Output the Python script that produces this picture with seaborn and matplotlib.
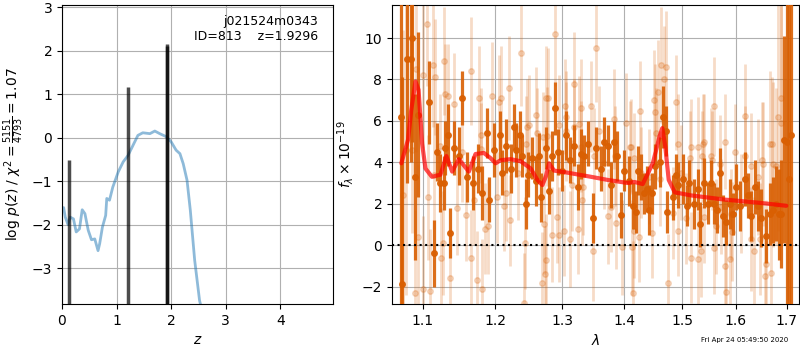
import matplotlib
matplotlib.use('Agg')
import matplotlib.pyplot as plt
from matplotlib.ticker import FormatStrFormatter, NullLocator
import pandas as pd
import seaborn as sns

# redshift fit: log p(z) curve
pz_z = [0.0, 0.03, 0.06, 0.11, 0.15, 0.21, 0.26, 0.32, 0.37, 0.42, 0.48, 0.54, 0.60, 0.66,
        0.69, 0.74, 0.80, 0.82, 0.87, 0.93, 1.03, 1.12, 1.21, 1.30, 1.39, 1.48, 1.61, 1.70,
        1.79, 1.91, 2.00, 2.09, 2.16, 2.22, 2.29, 2.35, 2.43, 2.52, 2.55]
pz_logp = [-1.67, -1.61, -1.83, -2.0, -1.83, -1.87, -2.17, -2.1, -1.66, -1.75, -2.13, -2.35,
           -2.33, -2.6, -2.44, -2.06, -1.79, -1.40, -1.44, -1.14, -0.79, -0.56, -0.41, -0.18,
           0.05, 0.11, 0.09, 0.15, 0.09, 0.02, -0.10, -0.29, -0.37, -0.60, -0.98, -1.67,
           -2.82, -3.75, -3.9]
spike_z = [0.128, 1.215, 1.915, 1.93]
spike_top = [-0.52, 1.17, 2.16, 2.1]

# spectrum: model
model_wave = [1.0723, 1.0810, 1.0850, 1.0906, 1.0946, 1.0993, 1.1037, 1.1122, 1.1236, 1.1317,
              1.1395, 1.1486, 1.1625, 1.1718, 1.1836, 1.1931, 1.2003, 1.2075, 1.2221, 1.2368,
              1.2518, 1.2618, 1.2694, 1.2745, 1.2795, 1.2872, 1.3080, 1.3452, 1.3722, 1.4057,
              1.4170, 1.4312, 1.4486, 1.4603, 1.4651, 1.4704, 1.4764, 1.4871, 1.5166, 1.5782,
              1.6433, 1.6994]
model_flux = [3.95, 5.1, 6.5, 7.9, 7.5, 4.9, 3.7, 3.3, 3.4, 4.3,
              3.55, 4.15, 3.55, 4.4, 4.45, 4.2, 3.95, 4.1, 4.15, 4.05,
              3.7, 3.15, 2.9, 3.3, 3.95, 3.6, 3.5, 3.3, 3.15, 3.0,
              3.05, 2.95, 3.95, 5.25, 5.65, 4.75, 3.15, 2.55, 2.4, 2.2,
              2.05, 1.9]

# spectrum: combined (dark) points
dark_wave = [1.0715, 1.0735, 1.0796, 1.0848, 1.0865, 1.0904, 1.0934, 1.1081, 1.1147, 1.1192,
             1.1227, 1.1281, 1.1303, 1.1335, 1.1372, 1.1417, 1.1486, 1.1524, 1.1593, 1.1686,
             1.1751, 1.1813, 1.1883, 1.1906, 1.1978, 1.2061, 1.2100, 1.2159, 1.2221, 1.2270,
             1.2305, 1.2353, 1.2393, 1.2443, 1.2483, 1.2544, 1.2593, 1.2643, 1.2680, 1.2745,
             1.2795, 1.2836, 1.2887, 1.2940, 1.3002, 1.3065, 1.3117, 1.3185, 1.3239, 1.3291,
             1.3344, 1.3398, 1.3489, 1.3533, 1.3614, 1.3668, 1.3724, 1.3778, 1.3833, 1.3878,
             1.3944, 1.4000, 1.4084, 1.4141, 1.4198, 1.4226, 1.4283, 1.4329, 1.4386, 1.4426,
             1.4467, 1.4525, 1.4618, 1.4660, 1.4718, 1.4736, 1.4836, 1.4895, 1.4936, 1.5014,
             1.5092, 1.5133, 1.5224, 1.5287, 1.5335, 1.5409, 1.5483, 1.5534, 1.5585, 1.5647,
             1.5691, 1.5755, 1.5816, 1.5879, 1.5943, 1.6007, 1.6071, 1.6168, 1.6233, 1.6297,
             1.6362, 1.6428, 1.6494, 1.6593, 1.6659, 1.6727, 1.6793, 1.6840, 1.6894, 1.6949,
             1.7016, 1.7043, 1.7098]
dark_flux = [6.2, -1.9, 9.0, 9.0, 10.0, 3.3, 6.3, 6.9, -0.4, 4.5,
             3.0, 3.0, 4.7, 5.3, 0.6, 4.7, 4.3, 7.1, 3.3, 3.0,
             3.7, 2.5, 5.4, 2.2, 4.6, 5.3, 3.5, 4.8, 3.7, 5.7,
             4.6, 5.3, 4.3, 2.0, 3.4, 4.2, 3.1, 4.3, 2.3, 4.7,
             2.6, 4.3, 6.6, 4.5, 3.6, 5.3, 4.1, 4.8, 2.8, 4.4,
             4.3, 4.9, 1.3, 4.7, 3.7, 5.0, 4.8, 2.9, 5.0, 4.3,
             1.45, 3.6, 3.1, 1.9, 1.6, 3.6, 3.3, 2.5, 2.7, 1.7,
             2.5, 3.8, 4.0, 6.2, 5.5, 1.6, 2.3, 3.4, 2.9, 3.2,
             1.9, 3.0, 2.0, 2.7, 1.0, 3.0, 2.0, 3.0, 2.0, 1.7,
             3.5, 1.4, 1.1, 2.0, 1.5, 2.8, 1.9, 3.2, 2.4, 1.4,
             2.8, 1.9, 1.3, 0.45, 1.5, 1.7, 2.0, 1.5, 1.5, 5.1,
             5.0, 3.2, 5.3]
dark_err = [10, 10, 6, 5, 5, 4, 4, 2.0, 1.6, 1.4,
            1.4, 1.3, 1.3, 1.5, 1.2, 1.3, 1.4, 1.3, 1.2, 1.3,
            1.2, 1.3, 1.2, 1.1, 1.3, 1.2, 1.1, 1.3, 1.2, 1.1,
            1.3, 1.2, 1.0, 1.2, 1.1, 1.0, 1.2, 1.1, 1.2, 1.0,
            1.1, 1.2, 1.3, 1.1, 1.0, 1.2, 1.1, 1.0, 1.1, 1.2,
            1.0, 1.1, 1.2, 1.0, 1.1, 1.2, 1.0, 1.1, 1.0, 1.2,
            1.1, 1.0, 1.2, 1.1, 1.0, 1.2, 1.1, 1.0, 1.1, 1.2,
            1.0, 1.1, 1.2, 1.5, 1.2, 1.0, 1.1, 1.0, 1.1, 1.2,
            1.0, 1.1, 1.2, 1.0, 1.1, 1.2, 1.0, 1.1, 1.0, 1.1,
            1.2, 1.0, 1.1, 1.2, 1.0, 1.1, 1.2, 1.3, 1.1, 1.2,
            1.3, 1.2, 1.4, 1.3, 1.5, 1.6, 1.8, 2.2, 2.6, 5.0,
            9, 10, 12]

# spectrum: individual beams (light points)
light_wave = [1.0745, 1.0780, 1.0867, 1.0902, 1.0911, 1.0941, 1.0999, 1.1006, 1.1059, 1.1072,
              1.1103, 1.1134, 1.1147, 1.1170, 1.1236, 1.1240, 1.1267, 1.1281, 1.1303, 1.1340,
              1.1362, 1.1417, 1.1463, 1.1532, 1.1579, 1.1648, 1.1655, 1.1693, 1.1741, 1.1765,
              1.1789, 1.1813, 1.1850, 1.1892, 1.1956, 1.2027, 1.2051, 1.2075, 1.2124, 1.2149,
              1.2196, 1.2206, 1.2334, 1.2368, 1.2417, 1.2432, 1.2443, 1.2493, 1.2604, 1.2694,
              1.2703, 1.2719, 1.2734, 1.2745, 1.2755, 1.2786, 1.2836, 1.2887, 1.2924, 1.2945,
              1.2950, 1.3027, 1.3043, 1.3050, 1.3058, 1.3117, 1.3149, 1.3185, 1.3239, 1.3264,
              1.3291, 1.3307, 1.3328, 1.3452, 1.3489, 1.3533, 1.3587, 1.3724, 1.3778, 1.3823,
              1.3861, 1.3956, 1.4028, 1.4100, 1.4124, 1.4151, 1.4158, 1.4168, 1.4254, 1.4271,
              1.4426, 1.4467, 1.4512, 1.4520, 1.4542, 1.4582, 1.4618, 1.4630, 1.4677, 1.4724,
              1.4748, 1.4836, 1.4895, 1.4925, 1.4936, 1.4985, 1.5075, 1.5153, 1.5166, 1.5287,
              1.5295, 1.5349, 1.5380, 1.5398, 1.5409, 1.5534, 1.5585, 1.5592, 1.5627, 1.5691,
              1.5786, 1.5800, 1.5808, 1.5879, 1.5924, 1.5975, 1.6168, 1.6175, 1.6284, 1.6350,
              1.6428, 1.6461, 1.6528, 1.6560, 1.6593, 1.6659, 1.6693, 1.6727, 1.6827, 1.6880,
              1.6894,
              1.1795, 1.2468, 1.2618, 1.2770, 1.3190, 1.3296, 1.3506, 1.3672, 1.3838, 1.4113,
              1.4290, 1.5170, 1.5355, 1.5540, 1.5721, 1.5911, 1.6103, 1.6300, 1.6498, 1.6698,
              1.6793]
light_flux = [2.4, 4.6, 4.6, -2.3, 8.5, 0.4, -2.1, 8.2, 10.7, 2.3,
              -2.2, 8.7, 3.4, 8.1, 4.8, -0.6, 0.1, 8.9, 7.3, 7.2,
              -1.6, 6.8, 1.8, 4.5, 1.45, 8.4, -0.6, 2.2, -1.7, 7.1,
              5.3, -2.1, 0.8, 0.9, 7.2, 2.3, 6.9, 7.1, 1.9, 2.5,
              7.6, 1.2, 3.5, 9.3, -2.8, 0.1, 4.9, 5.8, 6.3, -1.85,
              5.2, 1.0, -1.4, 7.1, -0.7, 7.1, 0.5, 10.2, 1.35, 0.5,
              5.8, 0.7, 6.7, 6.2, 5.5, 0.3, 2.9, 7.8, 0.8, 5.85,
              6.6, 2.2, 2.8, 6.7, -0.3, 9.5, 5.5, 1.4, 1.85, 6.1,
              1.05, -0.1, 5.9, 4.75, -0.1, -2.3, 4.2, 0.7, 0.4, 6.5,
              3.3, 0.6, 7.0, 6.45, 5.4, 7.4, 3.2, 8.7, 8.0, 8.6,
              -1.85, 1.55, 6.9, 0.7, 4.9, 3.5, 1.3, 4.2, -0.6, 4.75,
              -0.65, -0.3, 4.9, 5.0, 1.35, 4.3, 6.7, -0.15, 0.9, 3.9,
              5.0, -1.0, -2.25, -0.65, 0.65, 4.5, 6.25, 4.3, 0.3, -0.3,
              3.3, 0.3, 3.9, -1.5, -0.9, 4.9, -1.35, 3.9, 6.2, 5.9,
              7.1,
              4.65, 5.7, 5.4, 5.25, 5.7, 4.75, 4.3, 3.95, 4.3, 4.75,
              3.5, 4.75, 4.3, 4.1, 1.85, 1.5, 2.0, 3.8, 4.1, 4.9,
              3.8]
light_err = [8, 7, 4, 4, 4, 3.5, 3.5, 3.5, 3, 3,
             3, 3, 2.6, 2.8, 2.5, 2.4, 2.5, 2.6, 2.4, 2.5,
             2.4, 2.5, 2.3, 2.4, 2.2, 2.6, 2.3, 2.2, 2.4, 2.5,
             2.3, 2.4, 2.2, 2.3, 2.6, 2.2, 2.3, 2.5, 2.2, 2.3,
             2.5, 2.2, 2.3, 2.6, 2.4, 2.2, 2.3, 2.4, 2.3, 2.5,
             2.2, 2.4, 2.3, 2.5, 2.2, 2.4, 2.3, 2.5, 2.2, 2.3,
             2.4, 2.2, 2.3, 2.2, 2.4, 2.3, 2.2, 2.5, 2.2, 2.3,
             2.4, 2.2, 2.3, 2.2, 2.4, 2.6, 2.2, 2.3, 2.2, 2.4,
             2.2, 2.3, 2.4, 2.2, 2.3, 2.5, 2.2, 2.3, 2.2, 2.4,
             2.3, 2.2, 2.4, 2.3, 2.2, 2.5, 2.3, 2.8, 2.6, 2.7,
             2.4, 2.2, 2.3, 2.2, 2.4, 2.3, 2.2, 2.3, 2.2, 2.4,
             2.3, 2.2, 2.4, 2.3, 2.2, 2.3, 2.4, 2.2, 2.3, 2.4,
             2.3, 2.4, 2.5, 2.3, 2.4, 2.3, 2.5, 2.4, 2.5, 2.6,
             2.8, 2.7, 3.0, 2.9, 3.1, 3.5, 3.3, 4.0, 5.5, 6.0,
             7.0,
             2.2, 2.3, 2.2, 2.4, 2.3, 2.2, 2.3, 2.2, 2.4, 2.3,
             2.2, 2.3, 2.2, 2.4, 2.3, 2.2, 2.4, 2.6, 2.8, 3.2,
             3.8]

sns.set_style('ticks', {'axes.grid': True, 'grid.color': '#b0b0b0',
                        'axes.edgecolor': 'black', 'xtick.color': 'black',
                        'ytick.color': 'black', 'text.color': 'black',
                        'axes.labelcolor': 'black'})
plt.rcParams['font.family'] = ['DejaVu Sans']

orange = '#d95f02'

fig = plt.figure(figsize=(8, 3.5), dpi=100)
ax1 = fig.add_axes([0.0775, 0.131, 0.3385, 0.855])
ax2 = fig.add_axes([0.49, 0.131, 0.509, 0.855])

# left: p(z)
pz = pd.DataFrame({'z': pz_z, 'logp': pz_logp})
sns.lineplot(data=pz, x='z', y='logp', sort=False, color='tab:blue', alpha=0.5,
             linewidth=2, ax=ax1)
ax1.vlines(spike_z, -4, spike_top, color='k', alpha=0.7, linewidth=2.5)
ax1.set_xlim(0, 4.96)
ax1.set_ylim(-3.83, 3.05)
ax1.set_xticks([0, 1, 2, 3, 4])
ax1.set_yticks([-3, -2, -1, 0, 1, 2, 3])
ax1.set_xlabel('$z$')
ax1.set_ylabel(r'log $p(z)$ / $\chi^2=\frac{5151}{4793}=1.07$')
ax1.text(0.945, 0.967, 'j021524m0343\nID=813    z=1.9296', ha='right', va='top',
         transform=ax1.transAxes, fontsize=9)

# right: spectrum
ax2.errorbar(light_wave, light_flux, yerr=light_err, fmt='o', color=orange, alpha=0.22,
             markersize=4, elinewidth=2, capsize=0, zorder=2)
ax2.errorbar(dark_wave, dark_flux, yerr=dark_err, fmt='o', color=orange, alpha=0.9,
             markersize=4, elinewidth=2.3, capsize=0, zorder=3)
spec = pd.DataFrame({'wave': model_wave, 'flux': model_flux})
sns.lineplot(data=spec, x='wave', y='flux', sort=False, color='red', alpha=0.7,
             linewidth=3, ax=ax2, zorder=4)
ax2.axhline(0, color='k', linestyle=':', linewidth=1.5, zorder=5)
ax2.set_xscale('log')
ax2.set_xlim(1.0604, 1.7258)
ax2.set_ylim(-2.85, 11.6)
ax2.set_xticks([1.1, 1.2, 1.3, 1.4, 1.5, 1.6, 1.7])
ax2.xaxis.set_major_formatter(FormatStrFormatter('%.1f'))
ax2.xaxis.set_minor_locator(NullLocator())
ax2.set_yticks([-2, 0, 2, 4, 6, 8, 10])
ax2.set_xlabel(r'$\lambda$')
ax2.set_ylabel(r'$f_\lambda\times 10^{-19}$')

fig.text(0.985, 0.028, 'Fri Apr 24 05:49:50 2020', ha='right', va='center', fontsize=5)

fig.savefig('out.png', dpi=100)
